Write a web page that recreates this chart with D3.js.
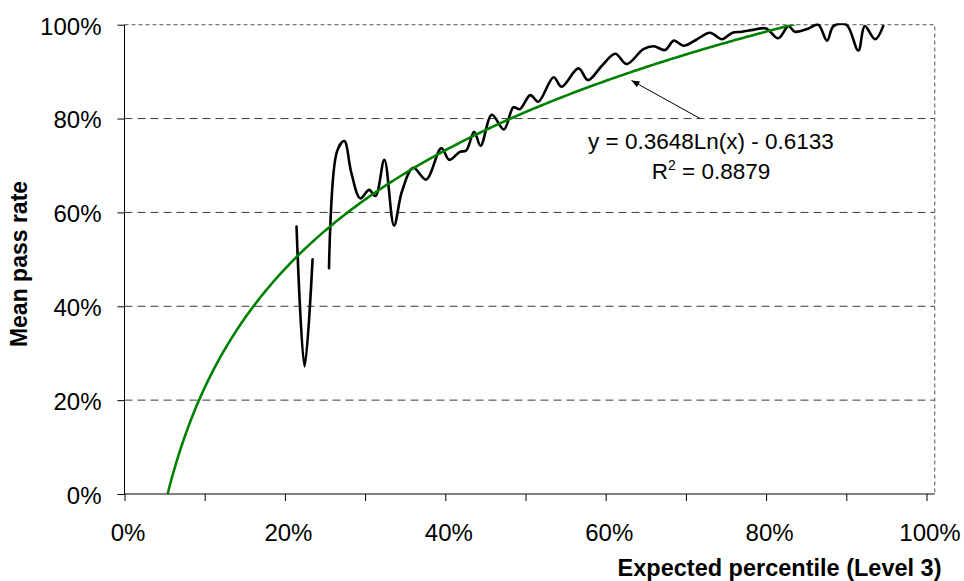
<!DOCTYPE html>
<html><head><meta charset="utf-8">
<script src="https://cdn.jsdelivr.net/npm/d3@7"></script>
<style>
body{margin:0;background:#fff}
svg{display:block}
text{font-family:"Liberation Sans",Arial,Helvetica,sans-serif;fill:#000}
</style>
</head><body>
<svg id="chart" width="964" height="581"></svg>
<script>
// Expected percentile (Level 3), in %
const expectedPct = [21.45,22.45,23.45,24.5,
  25.5,26.5,27.4,28.3,29.4,30.5,31.3,32.4,33.6,34.6,36.0,37.6,39.5,40.5,41.8,42.6,
  43.6,44.4,45.8,47.3,48.5,49.3,50.6,51.6,53.5,54.5,56.6,57.8,59.5,61.2,62.6,64.7,
  66.0,67.4,68.5,69.7,71.3,73.0,74.5,75.8,77.0,78.4,80.0,81.5,82.8,83.6,85.3,86.5,
  87.6,88.4,90.0,91.5,92.3,93.6,94.6];
// Mean pass rate, in % (null = gap in the line)
const passRate = [57.0,27.2,50.0,null,
  48.1,73.0,75.2,68.3,63.0,64.8,63.5,71.2,57.2,64.5,69.5,67.0,73.7,71.2,72.9,73.2,
  77.2,74.2,80.8,77.7,82.4,82.0,85.0,83.6,88.8,86.8,90.7,88.2,91.2,93.8,91.6,94.8,
  95.4,94.6,96.6,95.5,96.8,98.3,96.9,98.3,98.5,98.9,99.2,97.1,99.7,98.5,99.2,100.0,
  96.6,99.7,100.0,94.5,99.7,96.9,99.7];

// Logarithmic trendline shown on the chart: y = 0.3648 Ln(x) - 0.6133
const trendSlope = 0.3648;
const trendIntercept = -0.6133;
const trendEquation = "y = 0.3648Ln(x) - 0.6133";
const rSquared = "0.8879";

const xTicks = [0,10,20,30,40,50,60,70,80,90,100];
const xTickLabels = ["0%","","20%","","40%","","60%","","80%","","100%"];
const yTicks = [0,20,40,60,80,100];
const yTickLabels = ["0%","20%","40%","60%","80%","100%"];

const xTitle = "Expected percentile (Level 3)";
const yTitle = "Mean pass rate";

const svg = d3.select("#chart");
const L = 124.5, R = 926.5, FR = 934.7, T = 24.7, B = 494;
const x = d3.scaleLinear().domain([0,100]).range([L,R]);
const y = d3.scaleLinear().domain([0,100]).range([B,T]);

svg.append("defs").append("clipPath").attr("id","plotClip")
  .append("rect").attr("x",L).attr("y",T-1.5).attr("width",FR-L).attr("height",B-T+1.5);
svg.select("defs").append("clipPath").attr("id","trendClip")
  .append("rect").attr("x",L).attr("y",T).attr("width",FR-L).attr("height",B-T);
svg.select("defs").append("marker").attr("id","arrow")
  .attr("viewBox","0 0 10 10").attr("refX",10).attr("refY",5)
  .attr("markerWidth",10).attr("markerHeight",8).attr("markerUnits","userSpaceOnUse")
  .attr("orient","auto")
  .append("path").attr("d","M0,1 L10,5 L0,9 Z").attr("fill","#000");

// gridlines
svg.append("g").selectAll("line").data(yTicks.filter(d => d>0 && d<100)).join("line")
  .attr("x1",L).attr("x2",FR).attr("y1",d=>y(d)).attr("y2",d=>y(d))
  .attr("stroke","#3a3a3a").attr("stroke-width",1).attr("stroke-dasharray","8,5");

// plot border (top and right)
svg.append("path")
  .attr("d",`M${L},${T}H${FR}V${B}`)
  .attr("fill","none").attr("stroke","#7a7a7a").attr("stroke-width",1.3)
  .attr("stroke-dasharray","4,3");

// axes
const xAxis = d3.axisBottom(x).tickValues(xTicks).tickSize(7)
  .tickFormat((d,i)=>xTickLabels[i]);
const gx = svg.append("g").attr("transform",`translate(0,${B})`).call(xAxis);
gx.select(".domain").remove();
gx.selectAll(".tick line").attr("stroke","#000");
gx.selectAll(".tick text").attr("y",46.5).attr("dy",null).attr("dx",3)
  .style("font-size","24px").style("font-family",'"Liberation Sans",Arial,sans-serif');
svg.append("line").attr("x1",L-0.5).attr("x2",FR).attr("y1",B).attr("y2",B)
  .attr("stroke","#000").attr("stroke-width",1);

const yAxis = d3.axisLeft(y).tickValues(yTicks).tickSize(7).tickPadding(16)
  .tickFormat((d,i)=>yTickLabels[i]);
const gy = svg.append("g").attr("transform",`translate(${L},0)`).call(yAxis);
gy.select(".domain").remove();
gy.selectAll(".tick line").attr("stroke","#000");
gy.selectAll(".tick text").attr("dy","0.39em")
  .style("font-size","24px").style("font-family",'"Liberation Sans",Arial,sans-serif');
svg.append("line").attr("x1",L).attr("x2",L).attr("y1",T).attr("y2",B)
  .attr("stroke","#000").attr("stroke-width",1);

// data line (smoothed, with gap)
const pts = expectedPct.map((v,i)=>[v,passRate[i]]);
const line = d3.line().defined(d=>d[1]!==null)
  .x(d=>x(d[0])).y(d=>y(d[1])).curve(d3.curveCatmullRom.alpha(0.5));
svg.append("path").datum(pts).attr("d",line)
  .attr("clip-path","url(#plotClip)")
  .attr("fill","none").attr("stroke","#000").attr("stroke-width",2.6)
  .attr("stroke-linejoin","round").attr("stroke-linecap","round");

// trendline
const x0 = Math.exp(-trendIntercept/trendSlope);
const trendPts = d3.range(x0, 100.01, 0.25).map(v=>[v,(trendSlope*Math.log(v)+trendIntercept)*100]);
svg.append("path").datum(trendPts)
  .attr("d",d3.line().x(d=>x(d[0])).y(d=>y(d[1])))
  .attr("clip-path","url(#trendClip)")
  .attr("fill","none").attr("stroke","#008000").attr("stroke-width",2.6);

// arrow to trendline
svg.append("line").attr("x1",700).attr("y1",118.5).attr("x2",631.5).attr("y2",80.5)
  .attr("stroke","#000").attr("stroke-width",1).attr("marker-end","url(#arrow)");

// equation label
svg.append("text").attr("x",711).attr("y",148.5).attr("text-anchor","middle")
  .style("font-size","22.5px").text(trendEquation);
const r2 = svg.append("text").attr("x",711).attr("y",178.5).attr("text-anchor","middle")
  .style("font-size","22.5px");
r2.append("tspan").text("R");
r2.append("tspan").attr("dy",-9).style("font-size","14px").text("2");
r2.append("tspan").attr("dy",9).text(" = " + rSquared);

// axis titles
svg.append("text").attr("x",941.5).attr("y",576).attr("text-anchor","end")
  .style("font-size","23.5px").style("font-weight","bold").text(xTitle);
svg.append("text").attr("transform","translate(27,264) rotate(-90)").attr("text-anchor","middle")
  .style("font-size","23px").style("font-weight","bold").text(yTitle);
</script>
</body></html>
